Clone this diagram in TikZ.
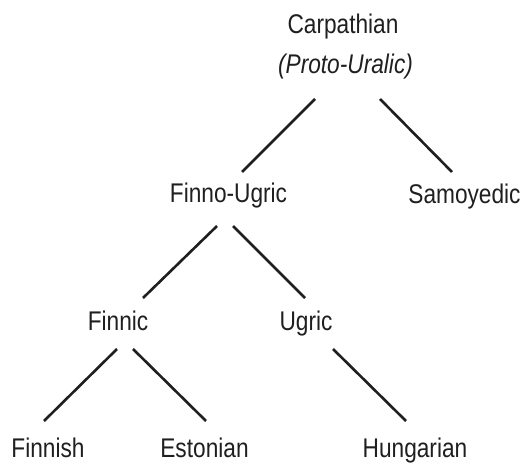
\documentclass[tikz,border=0pt]{standalone}
\usepackage{fontspec}
\setmainfont{Liberation Sans}[FakeStretch=0.84]
\begin{document}
\begin{tikzpicture}[x=1pt,y=-1pt,
  lang/.style={anchor=base,inner sep=0pt,text=black!88,font=\fontsize{27}{31}\selectfont},
  branch/.style={draw=black!88,line width=2.6pt}]
\useasboundingbox (0,0) rectangle (523,463);
% family names, placed by their baselines
\node[lang] (carp) at (343,33) {Carpathian};
\node[lang,font=\fontsize{27}{31}\selectfont\itshape] (pu) at (345.5,74) {(Proto-Uralic)};
\node[lang] (fu) at (228.5,202) {Finno-Ugric};
\node[lang] (sam) at (464.5,203) {Samoyedic};
\node[lang] (finnic) at (118,330) {Finnic};
\node[lang] (ugric) at (306,330) {Ugric};
\node[lang] (finnish) at (48,457) {Finnish};
\node[lang] (est) at (204.5,457) {Estonian};
\node[lang] (hun) at (415,457) {Hungarian};
% branches of the tree
\draw[branch] ([shift={(-30.5,25)}]pu.base) -- ([shift={(13.5,-30)}]fu.base);
\draw[branch] ([shift={(34.5,25)}]pu.base) -- ([shift={(-12.5,-31)}]sam.base);
\draw[branch] ([shift={(-11.5,24)}]fu.base) -- ([shift={(25,-32)}]finnic.base);
\draw[branch] ([shift={(4.5,24)}]fu.base) -- ([shift={(-1,-32)}]ugric.base);
\draw[branch] ([shift={(-1,19)}]finnic.base) -- ([shift={(-4,-36)}]finnish.base);
\draw[branch] ([shift={(15,19)}]finnic.base) -- ([shift={(1.5,-36)}]est.base);
\draw[branch] ([shift={(27,19)}]ugric.base) -- ([shift={(-9,-36)}]hun.base);
\end{tikzpicture}
\end{document}
